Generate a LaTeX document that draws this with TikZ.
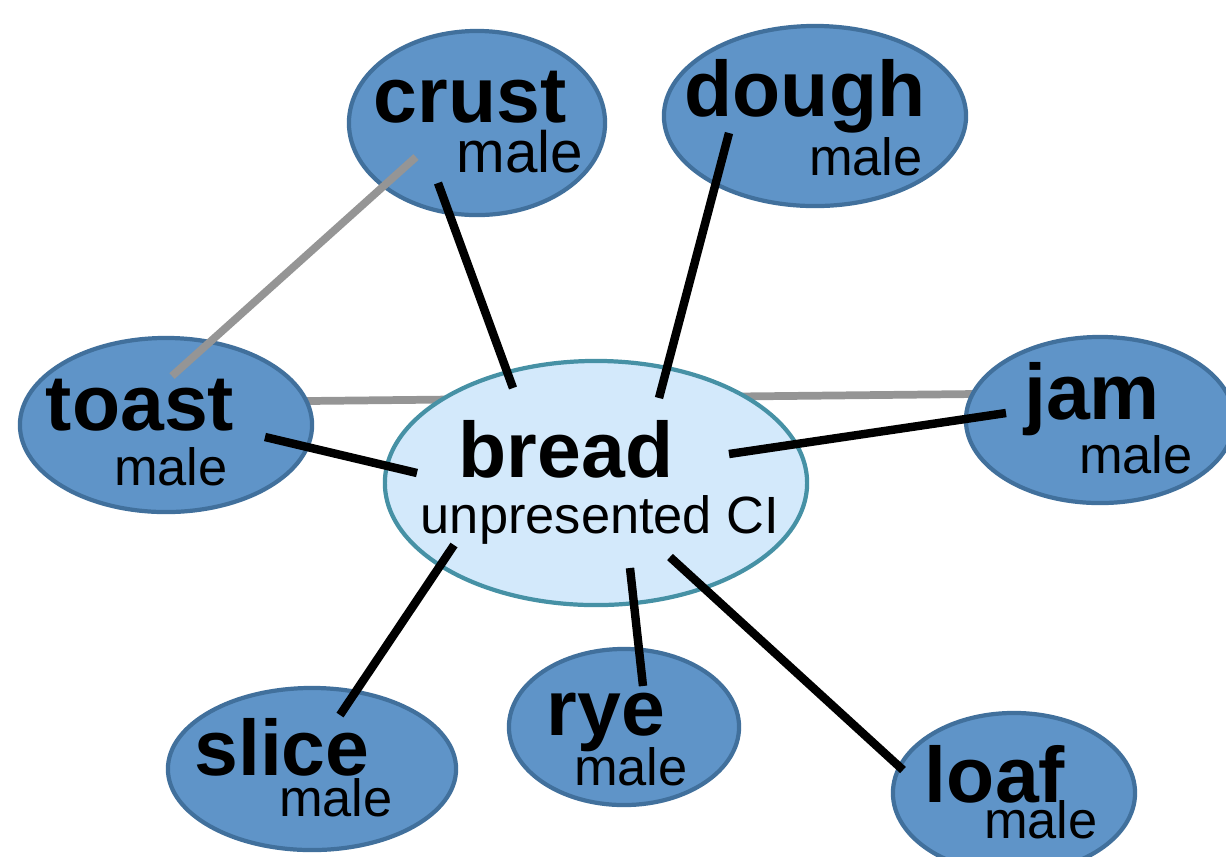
\documentclass[tikz,border=0pt]{standalone}
\usepackage{fontspec}
\setmainfont{Liberation Sans}
\usetikzlibrary{shapes.geometric,calc,backgrounds}
\definecolor{leaf}{HTML}{5F94C8}
\definecolor{leafedge}{HTML}{41709C}
\definecolor{hubfill}{HTML}{D3E9FB}
\definecolor{hubedge}{HTML}{4691A5}
\definecolor{link}{HTML}{959595}

\begin{document}
\begin{tikzpicture}[x=0.01cm,y=-0.01cm,
  leafnode/.style={ellipse,draw=leafedge,fill=leaf,line width=1.2pt,inner sep=0pt},
  hubnode/.style={ellipse,draw=hubedge,fill=hubfill,line width=1.2pt,inner sep=0pt},
  word/.style={anchor=base,inner sep=0pt,font=\fontsize{22.4}{24}\selectfont\bfseries},
  tag/.style={anchor=base,inner sep=0pt,font=\fontsize{14.9}{16}\selectfont},
  tie/.style={line width=2.4pt,black},
  weak/.style={line width=2.2pt,link}]
\clip (0,0) rectangle (1226,856);
% ellipses
\node[hubnode,minimum width=4.22cm,minimum height=2.44cm] (bread) at (596,483) {};
\node[leafnode,minimum width=2.56cm,minimum height=1.84cm] (crust) at (477,123) {};
\node[leafnode,minimum width=3.02cm,minimum height=1.80cm] (dough) at (815,116) {};
\node[leafnode,minimum width=2.92cm,minimum height=1.74cm] (toast) at (166,425) {};
\node[leafnode,minimum width=2.68cm,minimum height=1.66cm] (jam) at (1100,420) {};
\node[leafnode,minimum width=2.88cm,minimum height=1.62cm] (slice) at (312,769) {};
\node[leafnode,minimum width=2.30cm,minimum height=1.56cm] (rye) at (624,727) {};
\node[leafnode,minimum width=2.42cm,minimum height=1.60cm] (loaf) at (1014,793) {};

% grey link behind the ellipses
\begin{scope}[on background layer]
\draw[weak] ($(toast)+(141,-24)$) -- ($(jam)+(-125,-26)$);
\end{scope}
\draw[weak] ($(toast)+(6,-49)$) -- ($(crust)+(-61,34)$);

% links to the hub
\foreach \n/\a/\b in {crust/{-39,60}/{-83,-95}, dough/{-86,17}/{63,-85},
    toast/{99,12}/{-179,-10}, jam/{-94,-7}/{133,-29}, slice/{28,-54}/{-142,62},
    rye/{19,-41}/{34,85}, loaf/{-111,-23}/{74,74}}
  \draw[tie] ($(\n)+(\a)$) -- ($(bread)+(\b)$);

% labels
\node[word] (bread-w) at (566,477) {bread};
\node[tag] (bread-t) at (600,533) {unpresented CI};
\node[word] (crust-w) at (470,122) {crust};
\node[tag,font=\fontsize{16.6}{18}\selectfont] (crust-t) at (520,172) {male};
\node[word] (dough-w) at (805,116) {dough};
\node[tag] (dough-t) at (866,175) {male};
\node[word] (toast-w) at (140,430) {toast};
\node[tag] (toast-t) at (171,485) {male};
\node[word] (jam-w) at (1092,419) {jam};
\node[tag] (jam-t) at (1136,473) {male};
\node[word] (slice-w) at (282,775) {slice};
\node[tag] (slice-t) at (336,816) {male};
\node[word] (rye-w) at (606,735) {rye};
\node[tag] (rye-t) at (631,785) {male};
\node[word] (loaf-w) at (995,802) {loaf};
\node[tag] (loaf-t) at (1041,838) {male};
\end{tikzpicture}
\end{document}
